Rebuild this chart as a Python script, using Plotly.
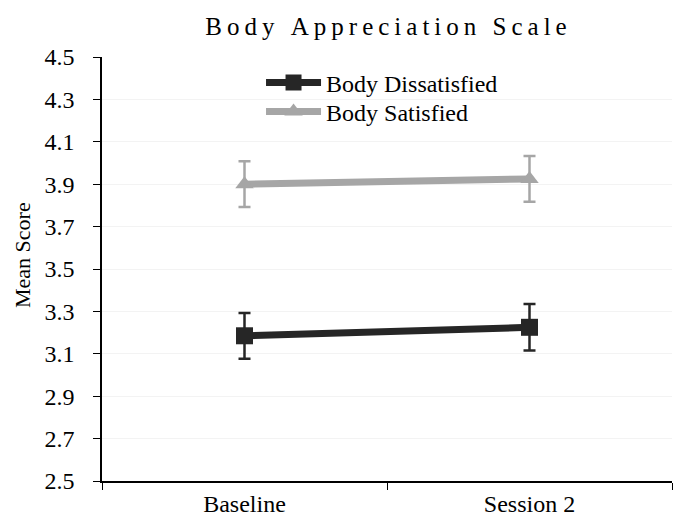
import plotly.graph_objects as go

categories = ["Baseline", "Session 2"]
dissatisfied = [3.185, 3.225]
dissatisfied_err = [0.108, 0.11]
satisfied = [3.90, 3.925]
satisfied_err = [0.108, 0.108]

font = "Liberation Serif"
title_text = "Body Appreciation Scale"
spaced_title = "\u2009".join(title_text)

fig = go.Figure()
fig.add_trace(go.Scatter(
    x=categories, y=dissatisfied, name="Body Dissatisfied",
    mode="lines+markers", legend="legend",
    line=dict(color="#262626", width=7),
    marker=dict(symbol="square", size=17, color="#262626"),
    error_y=dict(type="data", array=dissatisfied_err, color="#262626", thickness=2.5, width=6),
))
fig.add_trace(go.Scatter(
    x=categories, y=satisfied, name="Body Satisfied",
    mode="lines+markers", legend="legend2",
    line=dict(color="#a6a6a6", width=7),
    marker=dict(symbol="triangle-up", size=16, color="#a6a6a6"),
    error_y=dict(type="data", array=satisfied_err, color="#a6a6a6", thickness=2.5, width=6),
))

leg_common = dict(xanchor="left", yanchor="middle", bgcolor="rgba(0,0,0,0)",
                  font=dict(size=24, family=font, color="black"), itemwidth=55)

fig.update_layout(
    width=673, height=521,
    margin=dict(l=102, r=1, t=57, b=40),
    paper_bgcolor="white", plot_bgcolor="white",
    font=dict(family=font, color="black", size=24),
    title=dict(text=spaced_title,
               x=386 / 673, xanchor="center", y=1 - 26 / 521, yanchor="middle",
               font=dict(size=25, family=font)),
    showlegend=True,
    legend=dict(x=0.279, y=(481 - 83) / 424, **leg_common),
    legend2=dict(x=0.279, y=(481 - 112) / 424, **leg_common),
    annotations=[dict(text="Mean Score", textangle=-90, xref="paper", yref="paper",
                      x=(23 - 102) / 570, y=(481 - 255) / 424,
                      xanchor="center", yanchor="middle", showarrow=False,
                      font=dict(size=22, family=font, color="black"))],
)
fig.update_xaxes(
    type="category", range=[-0.5, 1.5], tickson="boundaries",
    showline=True, linecolor="black", linewidth=1.5,
    ticks="outside", ticklen=7, tickcolor="black",
    showgrid=False, tickfont=dict(size=24, family=font),
)
fig.update_yaxes(
    range=[2.5, 4.5], dtick=0.2, tick0=2.5, tickformat=".1f",
    showline=True, linecolor="black", linewidth=1.5,
    ticks="outside", ticklen=7, tickcolor="black",
    ticklabelstandoff=14,
    showgrid=True, gridcolor="#f3f3f3", gridwidth=1,
    zeroline=False,
    tickfont=dict(size=24, family=font),
)

fig.write_html("out.html")
